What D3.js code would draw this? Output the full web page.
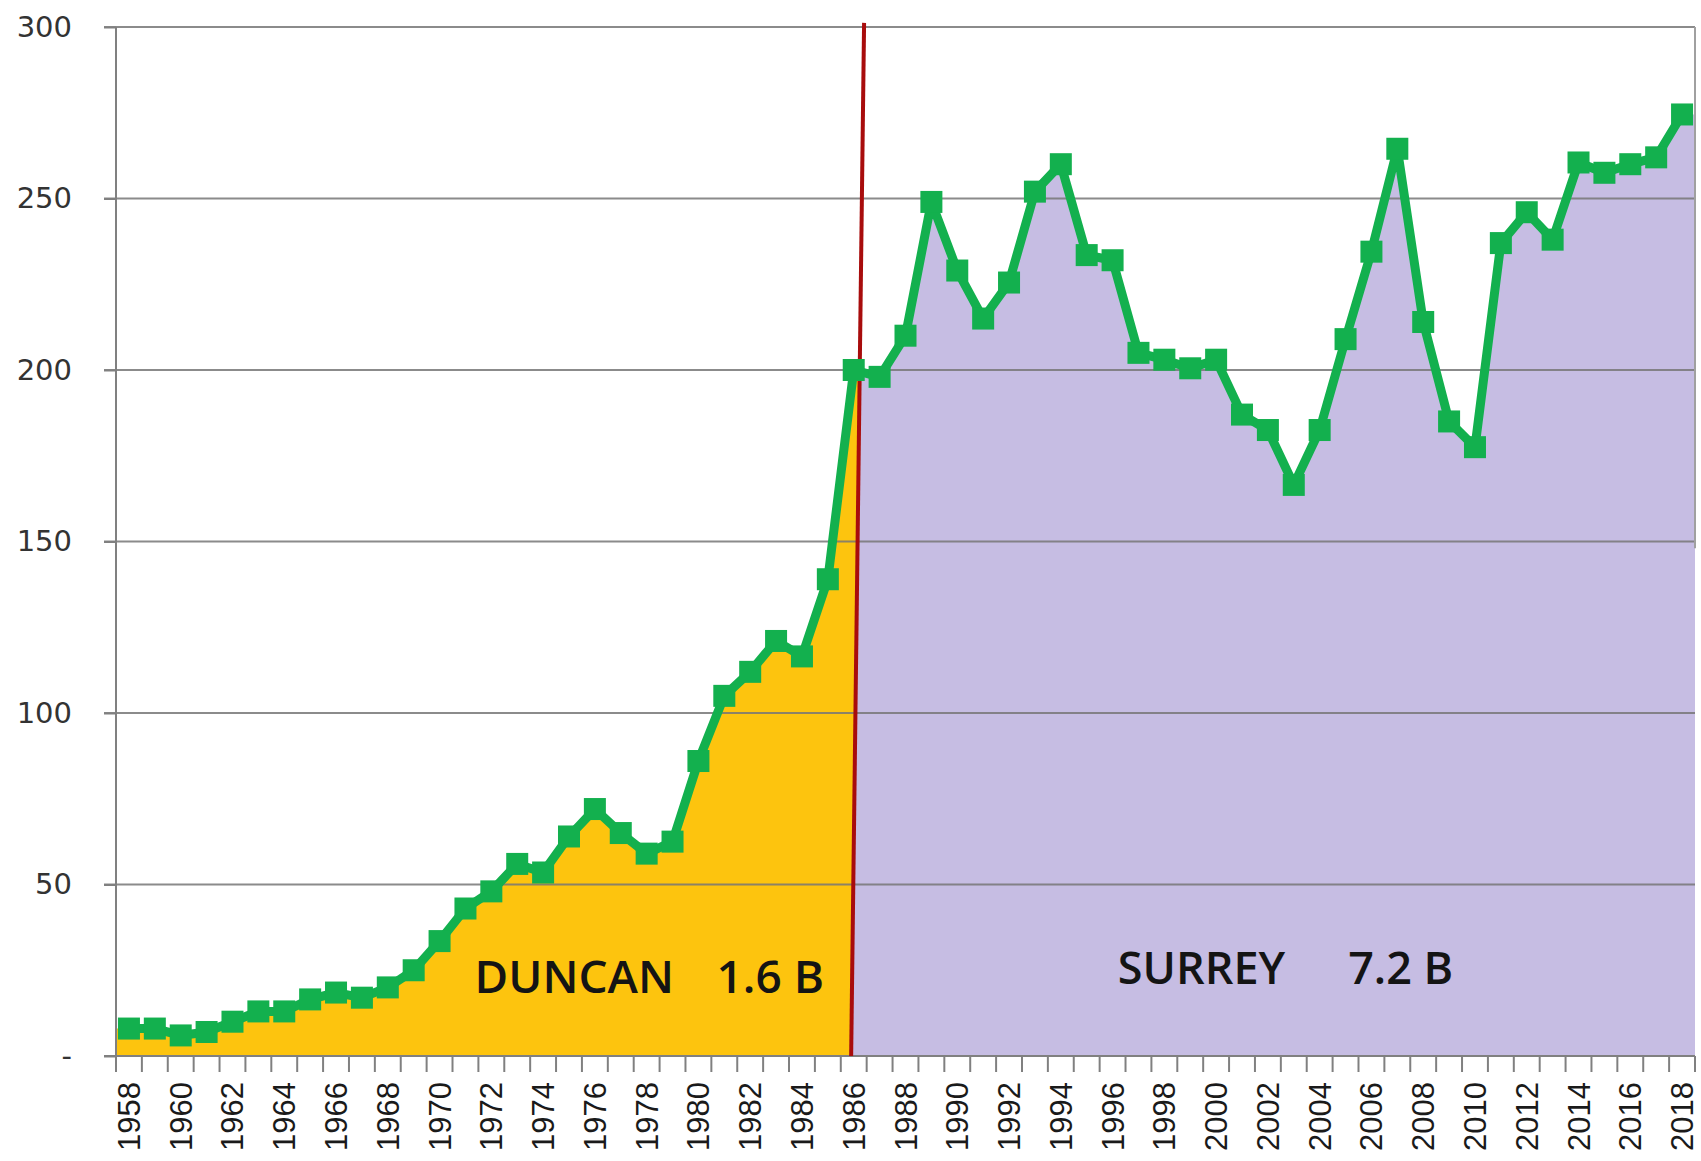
<!DOCTYPE html>
<html>
<head>
<meta charset="utf-8">
<script src="https://cdn.jsdelivr.net/npm/d3@7"></script>
<style>
    body { margin: 0; background: #fff; }
    svg { display: block; }
</style>
</head>
<body>
<svg id="chart"></svg>
<script>
// years on the category axis
const years = [1958, 1959, 1960, 1961, 1962, 1963, 1964, 1965, 1966, 1967,
    1968, 1969, 1970, 1971, 1972, 1973, 1974, 1975, 1976, 1977,
    1978, 1979, 1980, 1981, 1982, 1983, 1984, 1985, 1986, 1987,
    1988, 1989, 1990, 1991, 1992, 1993, 1994, 1995, 1996, 1997,
    1998, 1999, 2000, 2001, 2002, 2003, 2004, 2005, 2006, 2007,
    2008, 2009, 2010, 2011, 2012, 2013, 2014, 2015, 2016, 2017, 2018];

// values
const values = [8, 8, 6, 7, 10, 13, 13, 16.5, 18.5, 17,
    20, 25, 33.5, 43, 48, 56, 53.5, 64, 72, 65,
    59, 62.5, 86, 105, 112, 121, 116.5, 139, 200, 198,
    210, 249, 229, 215, 225.5, 252, 260, 233.5, 232, 205,
    203, 200.5, 203, 187, 182.5, 166.5, 182.5, 209, 234.5, 264.5,
    214, 185, 177.5, 237, 246, 238, 260.5, 257.5, 260, 262, 274.5];

const yTicks = [0, 50, 100, 150, 200, 250, 300];
const yTickLabels = ['-', '50', '100', '150', '200', '250', '300'];
const xTickLabels = years.filter(y => y % 2 === 0);

const splitYear = 1986;
const regionNames = ['DUNCAN', 'SURREY'];
const regionTotals = ['1.6 B', '7.2 B'];
// where the annotations sit, in data units (year, value)
const nameAt = [[1971.35, 18.4], [1996.2, 21]];
const totalAt = [[1980.7, 18.4], [2005.1, 21]];

class SplitArea {
    constructor(_config, _data) {
        this.config = {
            parentElement: _config.parentElement,
            containerWidth: _config.containerWidth || 1701,
            containerHeight: _config.containerHeight || 1161,
            margin: { top: 27, bottom: 105, right: 6, left: 116 }
        }
        this.data = _data;
        this.initVis();
    }

    initVis() {
        let vis = this;

        vis.width = vis.config.containerWidth - vis.config.margin.left - vis.config.margin.right;
        vis.height = vis.config.containerHeight - vis.config.margin.top - vis.config.margin.bottom;

        vis.svg = d3.select(vis.config.parentElement)
            .attr('width', vis.config.containerWidth)
            .attr('height', vis.config.containerHeight);

        vis.chart = vis.svg.append('g')
            .attr('transform', `translate(${vis.config.margin.left},${vis.config.margin.top})`);

        vis.xScale = d3.scaleBand()
            .domain(years)
            .range([0, vis.width])
            .padding(0);
        vis.bw = vis.xScale.bandwidth();
        vis.xc = d => vis.xScale(d) + vis.bw / 2;
        // fractional year -> pixel (for annotations)
        vis.xYear = d3.scaleLinear()
            .domain([years[0], years[years.length - 1]])
            .range([vis.xc(years[0]), vis.xc(years[years.length - 1])]);

        vis.yScale = d3.scaleLinear()
            .domain([0, 300])
            .range([vis.height, 0]);

        vis.updateVis();
    }

    updateVis() {
        let vis = this;
        let x0 = vis.xc(splitYear);

        // the red divider is a little slanted in the original
        vis.red = {
            x1: x0 + vis.bw * 0.4, y1: vis.yScale(301.2),
            x2: x0 - vis.bw * 0.1, y2: vis.yScale(0)
        };
        let slope = (vis.red.x2 - vis.red.x1) / (vis.red.y2 - vis.red.y1);
        let redAt = y => vis.red.x1 + (y - vis.red.y1) * slope;
        let top = -vis.config.margin.top, bot = vis.config.containerHeight;

        let defs = vis.svg.append('defs');
        defs.append('clipPath').attr('id', 'clip-left')
            .append('polygon')
            .attr('points', [[-200, top], [redAt(top), top], [redAt(bot), bot], [-200, bot]].join(' '));
        defs.append('clipPath').attr('id', 'clip-right')
            .append('polygon')
            .attr('points', [[redAt(top), top], [vis.width + 200, top], [vis.width + 200, bot], [redAt(bot), bot]].join(' '));

        // area runs edge to edge of the plot
        let n = vis.data.length;
        let areaPts = [{ px: 0, v: vis.data[0].value }]
            .concat(vis.data.map(d => ({ px: vis.xc(d.year), v: d.value })))
            .concat([{ px: vis.width, v: vis.data[n - 1].value }]);

        vis.area = d3.area()
            .x(d => d.px)
            .y0(vis.yScale(0))
            .y1(d => vis.yScale(d.v));

        vis.chart.append('path')
            .datum(areaPts)
            .attr('clip-path', 'url(#clip-left)')
            .attr('fill', '#fdc40e')
            .attr('d', vis.area);

        vis.chart.append('path')
            .datum(areaPts)
            .attr('clip-path', 'url(#clip-right)')
            .attr('fill', '#c6bde3')
            .attr('d', vis.area);

        this.renderVis();
    }

    renderVis() {
        let vis = this;

        // gridlines (drawn over the fills like in the picture)
        vis.chart.append('g')
            .selectAll('line')
            .data(yTicks.filter(t => t > 0))
            .join('line')
            .attr('x1', -12)
            .attr('x2', vis.width)
            .attr('y1', d => vis.yScale(d))
            .attr('y2', d => vis.yScale(d))
            .attr('stroke', '#777')
            .attr('stroke-opacity', 0.85)
            .attr('stroke-width', 2);

        // y axis
        vis.yAxis = d3.axisLeft(vis.yScale)
            .tickValues(yTicks)
            .tickFormat((d, i) => yTickLabels[i])
            .tickSize(12)
            .tickPadding(32);
        vis.yAxisG = vis.chart.append('g')
            .attr('class', 'axis y-axis')
            .call(vis.yAxis);
        vis.yAxisG.select('.domain').remove();
        vis.yAxisG.selectAll('.tick line').attr('stroke', '#808080').attr('stroke-width', 2);
        vis.yAxisG.selectAll('.tick text')
            .attr('font-family', 'DejaVu Sans')
            .attr('font-size', 29)
            .attr('fill', '#333');
        vis.chart.append('line')
            .attr('x1', 0).attr('x2', 0)
            .attr('y1', 0).attr('y2', vis.height)
            .attr('stroke', '#808080').attr('stroke-width', 2);

        // right border
        vis.chart.append('line')
            .attr('x1', vis.width).attr('x2', vis.width)
            .attr('y1', 0).attr('y2', vis.yScale(148))
            .attr('stroke', '#a0a0a0').attr('stroke-width', 2);

        // x axis: ticks between categories, labels every 2 years
        vis.chart.append('line')
            .attr('x1', -12).attr('x2', vis.width)
            .attr('y1', vis.height).attr('y2', vis.height)
            .attr('stroke', '#808080').attr('stroke-width', 2);
        vis.chart.append('g')
            .selectAll('line')
            .data(years.concat(['end']))
            .join('line')
            .attr('x1', d => d === 'end' ? vis.width : vis.xScale(d))
            .attr('x2', d => d === 'end' ? vis.width : vis.xScale(d))
            .attr('y1', vis.height)
            .attr('y2', vis.height + 16)
            .attr('stroke', '#808080')
            .attr('stroke-width', 2);
        vis.chart.append('g')
            .selectAll('text')
            .data(xTickLabels)
            .join('text')
            .attr('transform', d => `translate(${vis.xc(d) + 11},${vis.height + 26}) rotate(-90)`)
            .attr('text-anchor', 'end')
            .attr('font-family', 'Liberation Sans')
            .attr('font-size', 31)
            .attr('fill', '#1a1a1a')
            .text(d => d);

        // red divider
        vis.chart.append('line')
            .attr('x1', vis.red.x1).attr('y1', vis.red.y1)
            .attr('x2', vis.red.x2).attr('y2', vis.red.y2)
            .attr('stroke', '#a80c0c')
            .attr('stroke-width', 4);

        // green line + square markers
        vis.line = d3.line()
            .x(d => vis.xc(d.year))
            .y(d => vis.yScale(d.value));
        vis.chart.append('path')
            .datum(vis.data)
            .attr('fill', 'none')
            .attr('stroke', '#13b04e')
            .attr('stroke-width', 9)
            .attr('stroke-linejoin', 'round')
            .attr('d', vis.line);

        let ms = 22;
        vis.chart.selectAll('.marker')
            .data(vis.data)
            .join('rect')
            .attr('class', 'marker')
            .attr('x', d => vis.xc(d.year) - ms / 2)
            .attr('y', d => vis.yScale(d.value) - ms / 2)
            .attr('width', ms)
            .attr('height', ms)
            .attr('fill', '#13b04e');

        // region annotations
        let ann = vis.chart.append('g')
            .attr('font-family', 'Open Sans')
            .attr('font-weight', 600)
            .attr('fill', '#141414');
        ann.selectAll('.name')
            .data(regionNames)
            .join('text')
            .attr('class', 'name')
            .attr('x', (d, i) => vis.xYear(nameAt[i][0]))
            .attr('y', (d, i) => vis.yScale(nameAt[i][1]))
            .attr('font-size', (d, i) => i === 0 ? 46 : 45)
            .text(d => d);
        ann.selectAll('.total')
            .data(regionTotals)
            .join('text')
            .attr('class', 'total')
            .attr('x', (d, i) => vis.xYear(totalAt[i][0]))
            .attr('y', (d, i) => vis.yScale(totalAt[i][1]))
            .attr('font-size', (d, i) => i === 0 ? 46 : 45)
            .text(d => d);
    }
}

const data = years.map((y, i) => ({ year: y, value: values[i] }));
let chart = new SplitArea({ parentElement: '#chart' }, data);
</script>
</body>
</html>
